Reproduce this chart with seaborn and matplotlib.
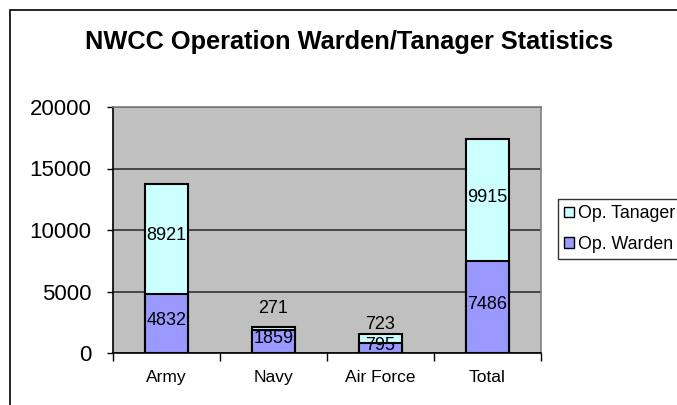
import pandas as pd
import matplotlib
matplotlib.use('Agg')
import matplotlib.pyplot as plt
from matplotlib.patches import Rectangle, Patch
import seaborn as sns

# Chart data
branches = ['Army', 'Navy', 'Air Force', 'Total']
warden = [4832, 1859, 795, 7486]
tanager = [8921, 271, 723, 9915]

df = pd.DataFrame({'Branch': branches, 'Warden': warden, 'Tanager': tanager})
df['Stack'] = df['Warden'] + df['Tanager']

warden_color = '#9999FF'
tanager_color = '#CCFFFF'

sns.set_style('white')
plt.rcParams['font.family'] = ['Liberation Sans', 'DejaVu Sans']
plt.rcParams['text.color'] = 'black'
plt.rcParams['xtick.color'] = 'black'
plt.rcParams['ytick.color'] = 'black'

fig = plt.figure(figsize=(6.77, 4.05), dpi=100)
ax = fig.add_axes([113 / 677, 52 / 405, 428 / 677, 246 / 405])
ax.set_facecolor('#C0C0C0')

# Outer chart frame
fig.patches.append(Rectangle((10 / 677, -0.1), 1.2, (405 - 10) / 405 + 0.1,
                             transform=fig.transFigure, fill=False,
                             edgecolor='black', linewidth=1.2, zorder=0))

# Stacked bars: full stack first (Tanager colour), then Warden on top
sns.barplot(data=df, x='Branch', y='Stack', color=tanager_color, width=0.4,
            edgecolor='black', linewidth=1.5, saturation=1, ax=ax, zorder=3)
sns.barplot(data=df, x='Branch', y='Warden', color=warden_color, width=0.4,
            edgecolor='black', linewidth=1.5, saturation=1, ax=ax, zorder=4)

ax.set_ylim(0, 20000)
ax.set_xlim(-0.5, len(branches) - 0.5)
ax.set_yticks(range(0, 20001, 5000))
ax.yaxis.grid(True, color='#333333', linewidth=1.2)
ax.set_axisbelow(True)
ax.set_xlabel('')
ax.set_ylabel('')

ax.tick_params(axis='y', which='major', direction='out', length=4.5, width=1,
               color='black', labelcolor='black', labelsize=16, pad=11,
               left=True)
ax.tick_params(axis='x', which='major', length=0, labelsize=12.5, pad=12,
               labelcolor='black')
ax.set_xticks([i + 0.5 for i in range(-1, len(branches))], minor=True)
ax.tick_params(axis='x', which='minor', direction='out', length=6, width=1,
               color='black', bottom=True)

for side in ['left', 'bottom']:
    ax.spines[side].set_color('black')
    ax.spines[side].set_linewidth(1.2)
for side in ['top', 'right']:
    ax.spines[side].set_color('#808080')
    ax.spines[side].set_linewidth(1.2)

# Data labels
for i, row in df.iterrows():
    w, t = row['Warden'], row['Tanager']
    ax.annotate(f'{w}', (i, w / 2), xytext=(0, 2), textcoords='offset points',
                ha='center', va='center', fontsize=13, color='black', zorder=6)
    if t > 2000:
        ax.annotate(f'{t}', (i, w + t / 2), xytext=(0, 2),
                    textcoords='offset points', ha='center', va='center',
                    fontsize=13, color='black', zorder=6)
    else:
        lift = 7 if row['Branch'] == 'Navy' else 1
        ax.annotate(f'{t}', (i, w + t), xytext=(0, lift),
                    textcoords='offset points', ha='center', va='bottom',
                    fontsize=13, color='black', zorder=6)

ax.set_title('NWCC Operation Warden/Tanager Statistics', fontsize=18.3,
             fontweight='bold', color='black', pad=42)
ax.title.set_position((236 / 428, 1))

handles = [Patch(facecolor=tanager_color, edgecolor='black', label='Op. Tanager'),
           Patch(facecolor=warden_color, edgecolor='black', label='Op. Warden')]
leg = fig.legend(handles=handles, loc='upper left',
                 bbox_to_anchor=(558 / 677, (405 - 199) / 405),
                 frameon=True, fancybox=False, fontsize=12.8,
                 handlelength=0.55, handleheight=0.55, handletextpad=0.25,
                 borderpad=0.35, labelspacing=0.75, borderaxespad=0)
leg.get_frame().set_edgecolor('black')
leg.get_frame().set_linewidth(1)

fig.savefig('out.png', dpi=100)
